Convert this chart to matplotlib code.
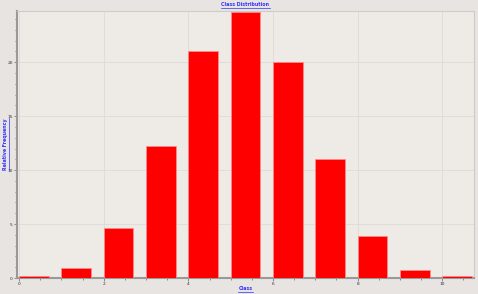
import numpy as np
import matplotlib
matplotlib.use('Agg')
import matplotlib.pyplot as plt
from matplotlib.ticker import MultipleLocator

# data
classes = np.arange(0, 11)
freq = [0.15, 0.95, 4.6, 12.25, 21.0, 24.7, 20.0, 11.05, 3.9, 0.75, 0.15]

blue = '#3333ff'
fig = plt.figure(figsize=(4.78, 2.94), dpi=100, facecolor='#e8e4e1')
ax = fig.add_axes([17/478, 1 - 278/294, (474 - 17)/478, (278 - 10.5)/294])
ax.set_facecolor('#eeebe6')

ax.bar(classes, freq, width=0.7, align='edge', color='#ff0000',
       edgecolor='#ff8a8a', linewidth=0.6, zorder=3)

ax.set_xlim(-0.05, 10.75)
ax.set_ylim(0, 24.8)

ax.xaxis.set_major_locator(MultipleLocator(2))
ax.xaxis.set_minor_locator(MultipleLocator(0.5))
ax.yaxis.set_major_locator(MultipleLocator(5))
ax.yaxis.set_minor_locator(MultipleLocator(1))
ax.grid(True, which='major', color='#dedad5', linewidth=0.6, zorder=0)

ax.tick_params(which='both', labelsize=3.2, colors='#666666', labelcolor='#333333',
               length=2, width=0.5, pad=1)
ax.tick_params(which='minor', length=1.5)
for s in ['left', 'bottom']:
    ax.spines[s].set_color('#999999')
    ax.spines[s].set_linewidth(1.5)
for s in ['top', 'right']:
    ax.spines[s].set_color('#cfcbc6')
    ax.spines[s].set_linewidth(0.8)

title = fig.text(0.5 * (17 + 474) / 478, 1 - 5/294, 'Class Distribution', ha='center', va='center',
                 fontsize=3.4, fontweight='bold', color=blue)
xl = fig.text(0.5 * (17 + 474) / 478, 1 - 289/294, 'Class', ha='center', va='center',
              fontsize=3.4, fontweight='bold', color=blue)
yl = fig.text(6/478, 1 - 144/294, 'Relative Frequency', ha='center', va='center', rotation=90,
              fontsize=3.4, fontweight='bold', color=blue)

# underline the labels
fig.canvas.draw()
r = fig.canvas.get_renderer()
inv = fig.transFigure.inverted()
for t in [title, xl]:
    bb = t.get_window_extent(r).transformed(inv)
    fig.add_artist(plt.Line2D([bb.x0, bb.x1], [bb.y0, bb.y0], transform=fig.transFigure,
                              color=blue, linewidth=0.5))
bb = yl.get_window_extent(r).transformed(inv)
fig.add_artist(plt.Line2D([bb.x1, bb.x1], [bb.y0, bb.y1], transform=fig.transFigure,
                          color=blue, linewidth=0.5))

fig.savefig('out.png', dpi=100, facecolor=fig.get_facecolor())
